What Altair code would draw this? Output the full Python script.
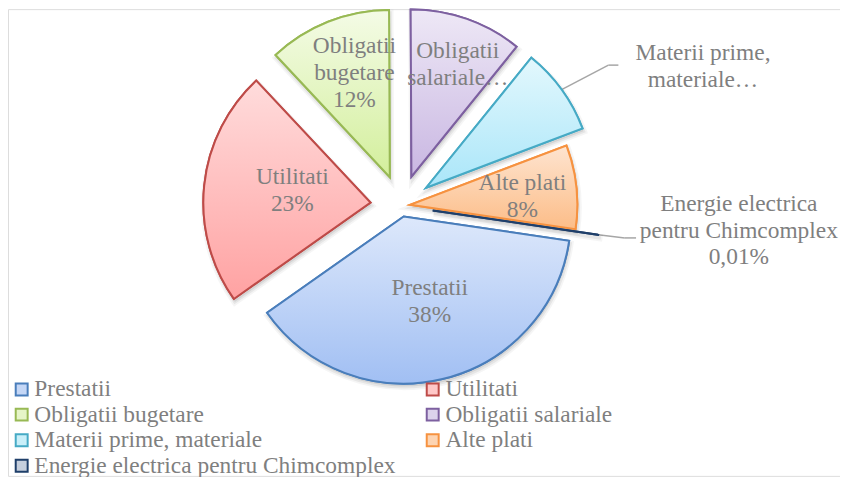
import altair as alt
import pandas as pd

# ---------------- data ----------------
categories = ["Prestatii", "Utilitati", "Obligatii bugetare", "Obligatii salariale",
              "Materii prime, materiale", "Alte plati",
              "Energie electrica pentru Chimcomplex"]
shares = [37.9, 22.8, 11.9, 10.9, 8.4, 8.1, 0.01]
slice_labels = ["Prestatii\n38%", "Utilitati\n23%", "Obligatii\nbugetare\n12%",
                "Obligatii\nsalariale…", "Materii prime,\nmateriale…", "Alte plati\n8%",
                "Energie electrica\npentru Chimcomplex\n0,01%"]

# ---------------- styles ----------------
fill_top = ["#dde8fb", "#ffdcdc", "#f4fbe6", "#eee8f6", "#e3f8fd", "#fee4d0", "#2b5791"]
fill_bottom = ["#a1bff3", "#ffa2a2", "#d3ef9c", "#c9b7e2", "#aae6f9", "#fcbd88", "#1b3c66"]
stroke_colors = ["#4a7ebb", "#be4b48", "#98b954", "#7d60a0", "#46aac5", "#f69240", "#1f3f6a"]
legend_fills = ["#c5d7f6", "#ffc8c8", "#e6f5c8", "#dcd2ec", "#c9eff9", "#fdd4b2", "#c6cfdd"]
explode_px = [11, 31, 31, 31, 31, 9, 32]
label_radius = [0.532, 0.473, 0.658, 0.726, 1.808, 0.673, 1.835]
label_turn_deg = [-3.6, 2.75, 2.9, 3.1, 12.2, 2.0, -4.6]
# leader lines (elbow dx, elbow dy, end dx) relative to label centre
leader_elbow_dx = [0, 0, 0, 0, -95, 0, -114.6]
leader_elbow_dy = [0, 0, 0, 0, -1, 0, 7.3]
leader_end_dx = [0, 0, 0, 0, -85, 0, -103.3]
has_leader = [False, False, False, False, True, False, True]

W, H = 836, 469
CX, CY, R = 395.1, 197.6, 168
LH = 27
SHADOW_DX, SHADOW_DY = 1.0, 3.0
FIRST_ANGLE = 98.4 * 3.141592653589793 / 180
SERIF = "Liberation Serif"
TEXT_GRAY = "#7f7f7f"

df = pd.DataFrame({
    "cat": categories, "share": shares, "label": slice_labels,
    "order": list(range(len(categories))),
    "explode": explode_px, "lr": label_radius, "lturn": label_turn_deg,
    "edx": leader_elbow_dx, "edy": leader_elbow_dy, "fdx": leader_end_dx,
    "lead": has_leader,
})

base = (
    alt.Chart(df)
    .transform_window(cum="sum(share)", sort=[alt.SortField("order")], frame=[None, 0])
    .transform_joinaggregate(total="sum(share)")
    .transform_calculate(t0=f"{FIRST_ANGLE} + 2*PI*(datum.cum - datum.share)/datum.total")
    .transform_calculate(t1=f"{FIRST_ANGLE} + 2*PI*datum.cum/datum.total")
    .transform_calculate(mid="(datum.t0 + datum.t1)/2")
    .transform_calculate(ax=f"{CX} + datum.explode*sin(datum.mid)")
    .transform_calculate(ay=f"{CY} - datum.explode*cos(datum.mid)")
    .transform_calculate(shx=f"datum.ax + {SHADOW_DX}")
    .transform_calculate(shy=f"datum.ay + {SHADOW_DY}")
    .transform_calculate(lx=f"datum.ax + datum.lr*{R}*sin(datum.mid + datum.lturn*PI/180)")
    .transform_calculate(ly=f"datum.ay - datum.lr*{R}*cos(datum.mid + datum.lturn*PI/180)")
    .transform_calculate(nl="split(datum.label, '\\n').length")
    .transform_calculate(ty=f"datum.ly - (datum.nl - 1)*{LH}/2")
    .transform_calculate(sx=f"datum.ax + {R}*sin(datum.mid)")
    .transform_calculate(sy=f"datum.ay - {R}*cos(datum.mid)")
    .transform_calculate(ex="datum.lx + datum.edx")
    .transform_calculate(ey="datum.ly + datum.edy")
    .transform_calculate(fx="datum.lx + datum.fdx")
)

X = lambda f: alt.X(f"{f}:Q", scale=None, axis=None)
Y = lambda f: alt.Y(f"{f}:Q", scale=None, axis=None)
theta_enc = dict(theta=alt.Theta("t0:Q", scale=None), theta2=alt.Theta2("t1:Q"))
arc_enc = dict(x=X("ax"), y=Y("ay"), **theta_enc)
shadow_enc = dict(x=X("shx"), y=Y("shy"), **theta_enc)

leg = alt.Legend(
    title=None, orient="none", legendX=2, legendY=370, columns=2, direction="horizontal",
    columnPadding=25, rowPadding=0.7, symbolType="square", symbolSize=144,
    symbolStrokeWidth=2, labelFont=SERIF, labelFontSize=23.5, labelColor=TEXT_GRAY,
    labelOffset=1, labelLimit=600, padding=0, offset=0,
)

shadow_outer = base.mark_arc(radius=R, fill="#000000", fillOpacity=0.08, stroke="#000000",
                             strokeOpacity=0.04, strokeWidth=7).encode(**shadow_enc)
shadow_inner = base.mark_arc(radius=R, filled=False, stroke="#000000",
                             strokeOpacity=0.06, strokeWidth=3.5).encode(**shadow_enc)

solid = base.mark_arc(radius=R, strokeWidth=2).encode(
    fill=alt.Fill("cat:N", scale=alt.Scale(domain=categories, range=legend_fills),
                  sort=categories, legend=leg),
    stroke=alt.Stroke("cat:N", scale=alt.Scale(domain=categories, range=stroke_colors),
                      sort=categories, legend=leg),
    **arc_enc,
)

grad_layers = []
for i, c in enumerate(categories):
    grad = {"gradient": "linear", "x1": 0, "y1": 0, "x2": 0, "y2": 1,
            "stops": [{"offset": 0, "color": fill_top[i]},
                      {"offset": 1, "color": fill_bottom[i]}]}
    grad_layers.append(
        base.transform_filter(alt.datum.cat == c)
        .mark_arc(radius=R, fill=grad, stroke=stroke_colors[i], strokeWidth=2)
        .encode(**arc_enc)
    )

lead1 = base.transform_filter("datum.lead").mark_rule(color="#a6a6a6", strokeWidth=1.5).encode(
    x=X("sx"), y=Y("sy"), x2="ex:Q", y2="ey:Q")
lead2 = base.transform_filter("datum.lead").mark_rule(color="#a6a6a6", strokeWidth=1.5).encode(
    x=X("ex"), y=Y("ey"), x2="fx:Q", y2="ey:Q")

labels = base.mark_text(font=SERIF, fontSize=23.5, lineHeight=LH, lineBreak="\n",
                        color=TEXT_GRAY, align="center", baseline="middle").encode(
    x=X("lx"), y=Y("ty"), text="label:N")

chart = alt.layer(lead1, lead2, shadow_outer, shadow_inner, solid, *grad_layers, labels).properties(
    width=W, height=H, padding=0,
    autosize=alt.AutoSizeParams(type="none"),
).configure_view(stroke=None).configure(background="white")

chart.save("out.html", embed_options={"renderer": "svg", "actions": False})
